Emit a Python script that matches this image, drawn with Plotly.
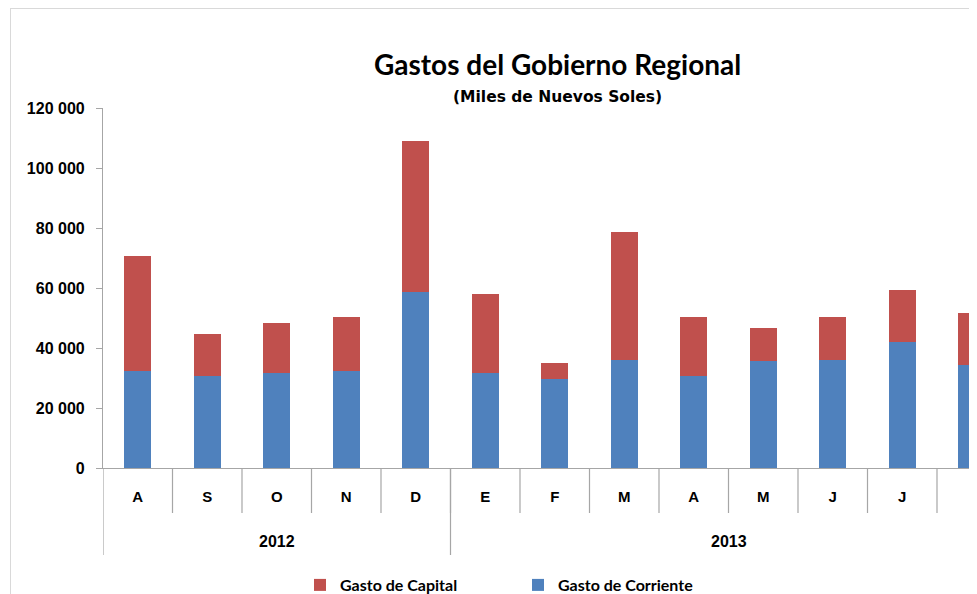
import plotly.graph_objects as go

MONTHS = ["A", "S", "O", "N", "D", "E", "F", "M", "A", "M", "J", "J", "A"]
YEARS = [("2012", 0, 4), ("2013", 5, 12)]
GASTO_CORRIENTE = [32300, 30800, 31800, 32300, 58600, 31800, 29800, 36100,
                   30800, 35600, 36100, 42000, 34400]
GASTO_TOTAL = [70700, 44700, 48400, 50300, 109100, 58000, 34900, 78700,
               50300, 46700, 50300, 59400, 51600]
GASTO_CAPITAL = [t - c for t, c in zip(GASTO_TOTAL, GASTO_CORRIENTE)]

BLUE = "#4f81bd"
RED = "#c0504d"
AXIS = "#a6a6a6"
BORDER = "#d9d9d9"
INK = "#000000"

OFF = 8                        # page body margin
W, H = 977 - OFF, 594 - OFF    # figure fills the window past the margin


def fx(s):
    return s - OFF


def fy(s):
    return s - OFF


L, T, BOTTOM = fx(103), fy(108), fy(468)
PLOT_W, PLOT_H = W - L, BOTTOM - T
CAT_W = 69.5


def py(s):
    """screen row -> paper y"""
    return (BOTTOM - fy(s)) / PLOT_H


def px(s):
    """screen column -> paper x"""
    return (fx(s) - L) / PLOT_W


x = list(range(len(MONTHS)))
fig = go.Figure()
fig.add_trace(go.Bar(x=x, y=GASTO_CORRIENTE, name="Gasto de Corriente",
                     marker=dict(color=BLUE, line=dict(width=0))))
fig.add_trace(go.Bar(x=x, y=GASTO_CAPITAL, name="Gasto de Capital",
                     marker=dict(color=RED, line=dict(width=0))))

shapes = []
# month separators
for i in range(len(MONTHS) - 1):
    shapes.append(dict(type="line", xref="x", yref="paper", x0=i + 0.5, x1=i + 0.5,
                       y0=py(513), y1=0, line=dict(color=AXIS, width=1.2)))
# year separators (left edge and between years)
for _, start, _ in YEARS:
    shapes.append(dict(type="line", xref="x", yref="paper", x0=start - 0.5, x1=start - 0.5,
                       y0=py(555), y1=0, line=dict(color=AXIS, width=1.2)))
# outer chart border (cropped Excel frame)
shapes.append(dict(type="line", xref="paper", yref="paper", x0=px(10), x1=px(990),
                   y0=py(8.5), y1=py(8.5), line=dict(color=BORDER, width=1)))
shapes.append(dict(type="line", xref="paper", yref="paper", x0=px(10.5), x1=px(10.5),
                   y0=py(8), y1=py(600), line=dict(color=BORDER, width=1)))

annotations = []
for label, start, end in YEARS:
    annotations.append(dict(x=(start + end) / 2, xref="x", y=py(541), yref="paper",
                            xanchor="center", yanchor="middle",
                            text=label, showarrow=False,
                            font=dict(family="Liberation Sans", size=16, color=INK,
                                      weight="bold")))
annotations.append(dict(x=px(557), xref="paper", y=py(64), yref="paper",
                        xanchor="center", yanchor="middle",
                        text="Gastos del Gobierno Regional", showarrow=False,
                        font=dict(family="Lato", size=28, color=INK, weight="bold")))
annotations.append(dict(x=px(557), xref="paper", y=py(97), yref="paper",
                        xanchor="center", yanchor="middle",
                        text="(Miles de Nuevos Soles)", showarrow=False,
                        font=dict(family="DejaVu Sans", size=15.5, color=INK,
                                  weight="bold")))

fig.update_layout(
    width=W, height=H,
    barmode="stack", bargap=0.61,
    paper_bgcolor="white", plot_bgcolor="white",
    margin=dict(l=L, r=0, t=T, b=H - BOTTOM, pad=0, autoexpand=False),
    separators=", ",
    shapes=shapes, annotations=annotations,
    showlegend=True,
    legend=dict(orientation="h", traceorder="reversed", x=px(300), xanchor="left",
                y=py(585), yanchor="middle", entrywidth=173, bgcolor="rgba(0,0,0,0)",
                font=dict(family="Lato", size=16, color=INK, weight="bold")),
)
fig.update_xaxes(range=[-0.5, PLOT_W / CAT_W - 0.5], tickvals=x, ticktext=MONTHS,
                 showline=True, linecolor=AXIS, linewidth=1.2, showgrid=False,
                 zeroline=False, ticks="", ticklabelstandoff=15,
                 tickfont=dict(family="Liberation Sans", size=15, color=INK, weight="bold"))
fig.update_yaxes(range=[0, 120000], dtick=20000, tickformat=",d",
                 showline=True, linecolor=AXIS, linewidth=1.2, showgrid=False,
                 zeroline=False, ticks="outside", ticklen=6, tickcolor=AXIS,
                 ticklabelstandoff=8,
                 tickfont=dict(family="Liberation Sans", size=16, color=INK, weight="bold"))

fig.write_html("out.html")
